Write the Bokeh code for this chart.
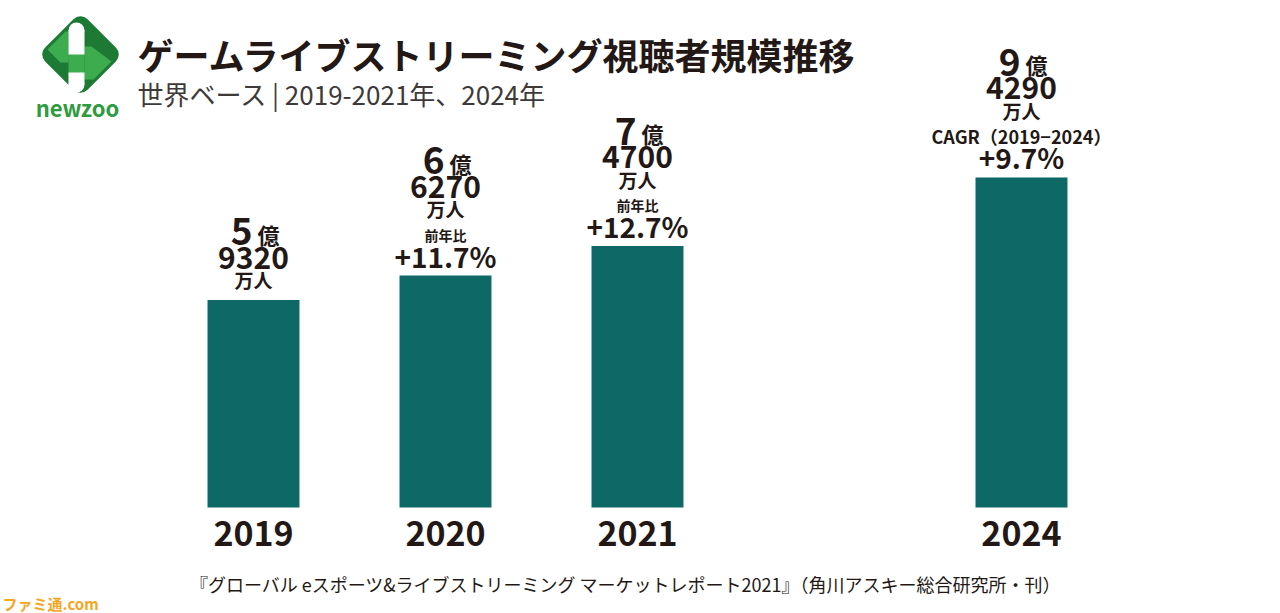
from bokeh.plotting import figure
from bokeh.models import Range1d, ColumnDataSource
from bokeh.core.properties import value
from bokeh.embed import file_html
from bokeh.resources import INLINE

# ---------------- data ----------------
years = ["2019", "2020", "2021", "2024"]
slots = [0, 1, 2, 4]                        # 2022/2023 left out (gap)
viewers_man = [59320, 66270, 74700, 94290]  # 万人
growth_caption = ["", "前年比", "前年比", "CAGR（2019−2024）"]
growth_value = ["", "+11.7%", "+12.7%", "+9.7%"]

title = "ゲームライブストリーミング視聴者規模推移"
subtitle = "世界ベース | 2019-2021年、2024年"
footer = "『グローバル eスポーツ&ライブストリーミング マーケットレポート2021』（角川アスキー総合研究所・刊）"
watermark = "ファミ通.com"

# ---------------- styling ----------------
W, H = 1280, 613
FONT = value("Noto Sans CJK JP")
INK = "#231815"
BAR = "#0e6866"

p = figure(width=W, height=H, x_range=Range1d(0, W), y_range=Range1d(H, 0),
           output_backend="svg", toolbar_location=None, min_border=0)
p.axis.visible = False
p.grid.visible = False
p.outline_line_color = None
p.background_fill_color = "white"
p.border_fill_color = "white"
p.extra_x_ranges = {"cat": Range1d(-1.3177, 5.349)}
p.extra_y_ranges = {"val": Range1d(-3.0286, 14.486)}

oku_val = [v / 10000 for v in viewers_man]
has_g = [1 if g else 0 for g in growth_value]
base = [47 * g for g in has_g]

src = ColumnDataSource(dict(
    x=slots, top=oku_val, year=years,
    oku=[str(v // 10000) for v in viewers_man],
    man=[str(v % 10000) for v in viewers_man],
    off_oku=[-(68 + b) for b in base],
    off_okuch=[-(66 + b) for b in base],
    off_num=[-(42 + b) for b in base],
    off_unit=[-(20 + b) for b in base],
))

p.vbar(x="x", top="top", bottom=0, width=0.479, source=src,
       x_range_name="cat", y_range_name="val", fill_color=BAR, line_color=None)

common = dict(source=src, x_range_name="cat", y_range_name="val",
              text_font=FONT, text_color=INK, text_baseline="middle",
              text_font_style="bold")
p.text(x="x", y="top", text="oku", y_offset="off_oku", x_offset=-1,
       text_align="right", text_font_size="37px", **common)
p.text(x="x", y="top", text=value("億"), y_offset="off_okuch", x_offset=4,
       text_align="left", text_font_size="22px", **common)
p.text(x="x", y="top", text="man", y_offset="off_num",
       text_align="center", text_font_size="30px", **common)
p.text(x="x", y="top", text=value("万人"), y_offset="off_unit",
       text_align="center", text_font_size="19px", **common)
p.text(x="x", y=0, text="year", y_offset=26,
       text_align="center", text_font_size="34px", **common)

gi = [i for i, g in enumerate(has_g) if g]
gsrc = ColumnDataSource(dict(
    x=[slots[i] for i in gi], top=[oku_val[i] for i in gi],
    cap=[growth_caption[i] for i in gi], val=[growth_value[i] for i in gi],
    fs=["18px" if growth_caption[i].startswith("CAGR") else "14px" for i in gi],
))
gcommon = dict(common)
gcommon["source"] = gsrc
p.text(x="x", y="top", text="cap", y_offset=-41, text_align="center",
       text_font_size="fs", **gcommon)
p.text(x="x", y="top", text="val", y_offset=-20, text_align="center",
       text_font_size="28px", **gcommon)

# ---------------- logo (pixel space) ----------------
DG, LG = "#1d7a35", "#3dac4f"
p.rect(x=[80], y=[54], width=60, height=60, angle=0.785398,
       fill_color=DG, line_color=None, border_radius=10)
p.patches(xs=[[47, 65, 68, 68, 60], [84, 91, 111, 93, 84]],
          ys=[[49, 31, 31, 62, 62], [46, 46, 61, 79, 79]],
          fill_color=LG, line_color=None)
p.quad(left=[68], right=[84], top=[50], bottom=[76], fill_color=LG, line_color=None)
p.quad(left=[68, 68], right=[84, 84], top=[30, 72], bottom=[54, 84],
       fill_color="white", line_color=None)
p.circle(x=[76, 76], y=[30, 84], radius=8, fill_color="white", line_color=None)
p.text(x=[77], y=[106], text=["newzoo"], text_font=FONT,
       text_font_style="bold", text_font_size="22px", text_color="#2f9b3f",
       text_align="center", text_baseline="middle")

# ---------------- titles & footer ----------------
p.text(x=[137], y=[53], text=[title], text_font=FONT, text_font_style="bold",
       text_font_size="36px", text_color=INK, text_baseline="middle")
p.text(x=[137], y=[93], text=[subtitle], text_font=FONT,
       text_font_size="26px", text_color="#3e3a39", text_baseline="middle")
p.text(x=[625], y=[583], text=[footer], text_font=FONT,
       text_font_size="18px", text_color=INK, text_align="center",
       text_baseline="middle")
p.text(x=[2], y=[603], text=[watermark], text_font=FONT, text_font_style="bold",
       text_font_size="15px", text_color="#f5a623", text_baseline="middle")

open("out.html", "w").write(file_html(p, INLINE))
